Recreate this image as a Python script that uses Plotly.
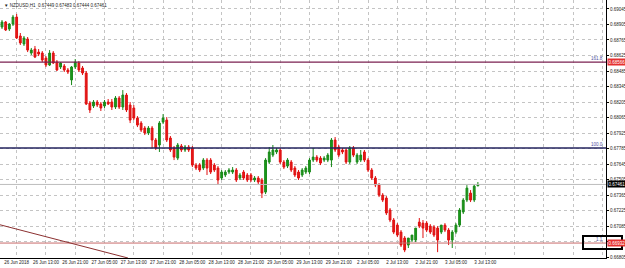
import plotly.graph_objects as go

# H1 NZDUSD candles (bar index 0 = 26 Jun 01:00)
opens = [0.68882,0.68927,0.68864,0.68909,0.68972,0.68801,0.68729,0.68774,0.68647,0.68683,
         0.68656,0.68647,0.68602,0.68539,0.68647,0.68566,0.68521,0.68530,0.68494,0.68404,
         0.68521,0.68557,0.68512,0.68467,0.68196,0.68169,0.68205,0.68187,0.68169,0.68205,
         0.68205,0.68160,0.68241,0.68160,0.68268,0.68178,0.68151,0.68060,0.68015,0.67970,
         0.67925,0.67970,0.67862,0.67817,0.68024,0.68042,0.67880,0.67790,0.67699,0.67808,
         0.67772,0.67799,0.67790,0.67636,0.67636,0.67609,0.67681,0.67681,0.67636,0.67609,
         0.67519,0.67546,0.67573,0.67573,0.67591,0.67519,0.67573,0.67546,0.67546,0.67501,
         0.67519,0.67501,0.67392,0.67663,0.67726,0.67754,0.67772,0.67663,0.67627,0.67663,
         0.67609,0.67573,0.67546,0.67573,0.67573,0.67681,0.67708,0.67699,0.67681,0.67681,
         0.67681,0.67862,0.67799,0.67772,0.67772,0.67663,0.67790,0.67663,0.67681,0.67754,
         0.67681,0.67591,0.67519,0.67456,0.67365,0.67338,0.67230,0.67140,0.67094,0.67031,
         0.66977,0.66914,0.66959,0.66959,0.67121,0.67112,0.67112,0.67085,0.67076,0.67067,
         0.67031,0.67094,0.67049,0.66959,0.67031,0.67094,0.67212,0.67320,0.67383,0.67320,
         0.67449]
highs = [0.68945,0.68936,0.68918,0.68991,0.69000,0.68828,0.68801,0.68792,0.68693,0.68711,
         0.68683,0.68665,0.68620,0.68674,0.68665,0.68584,0.68566,0.68548,0.68512,0.68530,
         0.68593,0.68575,0.68530,0.68485,0.68214,0.68223,0.68223,0.68205,0.68223,0.68232,
         0.68232,0.68259,0.68259,0.68313,0.68286,0.68205,0.68178,0.68078,0.68033,0.67988,
         0.67988,0.67988,0.67880,0.68033,0.68096,0.68069,0.67898,0.67808,0.67835,0.67826,
         0.67817,0.67817,0.67808,0.67654,0.67654,0.67699,0.67699,0.67699,0.67654,0.67627,
         0.67591,0.67591,0.67609,0.67618,0.67609,0.67564,0.67591,0.67564,0.67564,0.67537,
         0.67537,0.67519,0.67699,0.67799,0.67817,0.67790,0.67790,0.67681,0.67699,0.67681,
         0.67627,0.67591,0.67609,0.67627,0.67699,0.67790,0.67726,0.67717,0.67717,0.67744,
         0.67880,0.67889,0.67817,0.67790,0.67790,0.67808,0.67808,0.67744,0.67772,0.67772,
         0.67699,0.67609,0.67537,0.67474,0.67383,0.67356,0.67248,0.67158,0.67112,0.67049,
         0.66995,0.66977,0.67004,0.67067,0.67158,0.67140,0.67130,0.67103,0.67094,0.67085,
         0.67094,0.67112,0.67067,0.67049,0.67112,0.67248,0.67338,0.67455,0.67410,0.67464,
         0.67483]
lows = [0.68864,0.68846,0.68846,0.68891,0.68774,0.68720,0.68711,0.68656,0.68629,0.68602,
        0.68620,0.68566,0.68521,0.68530,0.68548,0.68485,0.68503,0.68476,0.68458,0.68358,
        0.68503,0.68476,0.68449,0.68178,0.68106,0.68151,0.68160,0.68124,0.68151,0.68178,
        0.68133,0.68142,0.68142,0.68133,0.68115,0.68015,0.68042,0.67979,0.67934,0.67907,
        0.67907,0.67790,0.67772,0.67754,0.68006,0.67844,0.67754,0.67681,0.67681,0.67754,
        0.67754,0.67754,0.67618,0.67591,0.67573,0.67591,0.67546,0.67555,0.67573,0.67456,
        0.67501,0.67528,0.67555,0.67555,0.67483,0.67501,0.67501,0.67483,0.67483,0.67483,
        0.67464,0.67338,0.67374,0.67645,0.67708,0.67735,0.67645,0.67600,0.67609,0.67573,
        0.67528,0.67501,0.67528,0.67555,0.67555,0.67663,0.67663,0.67636,0.67663,0.67663,
        0.67618,0.67754,0.67708,0.67735,0.67645,0.67645,0.67708,0.67645,0.67663,0.67663,
        0.67573,0.67501,0.67437,0.67347,0.67302,0.67185,0.67121,0.67013,0.66986,0.66896,
        0.66850,0.66887,0.66941,0.66941,0.67067,0.66977,0.67031,0.67013,0.66986,0.66850,
        0.67013,0.67031,0.66914,0.66887,0.67013,0.67076,0.67194,0.67302,0.67302,0.67302,
        0.67444]
closes = [0.68927,0.68855,0.68909,0.68972,0.68783,0.68738,0.68783,0.68674,0.68674,0.68611,
          0.68638,0.68584,0.68539,0.68647,0.68557,0.68494,0.68557,0.68494,0.68476,0.68521,
          0.68566,0.68494,0.68467,0.68187,0.68133,0.68205,0.68178,0.68151,0.68205,0.68187,
          0.68160,0.68241,0.68160,0.68268,0.68133,0.68042,0.68060,0.67997,0.67952,0.67925,
          0.67970,0.67862,0.67790,0.68015,0.68060,0.67862,0.67772,0.67708,0.67817,0.67772,
          0.67799,0.67772,0.67636,0.67609,0.67591,0.67681,0.67609,0.67573,0.67591,0.67501,
          0.67573,0.67573,0.67591,0.67591,0.67501,0.67546,0.67519,0.67501,0.67501,0.67519,
          0.67483,0.67383,0.67681,0.67754,0.67772,0.67772,0.67663,0.67618,0.67681,0.67591,
          0.67546,0.67519,0.67591,0.67609,0.67681,0.67708,0.67681,0.67654,0.67699,0.67726,
          0.67862,0.67772,0.67726,0.67754,0.67663,0.67790,0.67726,0.67726,0.67726,0.67681,
          0.67591,0.67519,0.67456,0.67365,0.67320,0.67203,0.67140,0.67031,0.67004,0.66914,
          0.66869,0.66977,0.67004,0.67067,0.67085,0.67067,0.67049,0.67031,0.67004,0.66959,
          0.67094,0.67049,0.66959,0.67031,0.67094,0.67230,0.67320,0.67428,0.67320,0.67446,
          0.67461]

# time axis labels every 8 bars, starting at bar 4
time_labels = ["26 Jun 2018", "26 Jun 13:00", "26 Jun 21:00", "27 Jun 05:00", "27 Jun 13:00",
               "27 Jun 21:00", "28 Jun 05:00", "28 Jun 13:00", "28 Jun 21:00", "29 Jun 05:00",
               "29 Jun 13:00", "29 Jun 21:00", "2 Jul 05:00", "2 Jul 13:00", "2 Jul 21:00",
               "3 Jul 05:00", "3 Jul 13:00", "", "", "", ""]
first_label_bar = 4
bars_per_label = 8

price_ticks = [0.69045, 0.68905, 0.68765, 0.68625, 0.68485, 0.68345, 0.68205, 0.68065,
               0.67925, 0.67785, 0.67645, 0.67505, 0.67365, 0.67225, 0.67085, 0.66945, 0.66805]
# the 0.66945 label sits under the red price box in the original
price_tick_text = ["0.69045", "0.68905", "0.68765", "0.68625", "0.68485", "0.68345", "0.68205",
                   "0.68065", "0.67925", "0.67785", "0.67645", "0.67505", "0.67365", "0.67225",
                   "0.67085", "", "0.66805"]

fib_1618 = 0.68566
fib_1000 = 0.67790
low_level = 0.66932
bid_price = 0.67461
trend_start = (-0.55, 0.67097)
trend_end = (34.4, 0.66797)

x_range = [-0.55, 165.0]
y_range = [0.66797, 0.69126]

FONT = "Liberation Sans, Arial, sans-serif"

xs = list(range(len(opens)))
tickvals = [first_label_bar + bars_per_label * k for k in range(len(time_labels))]

fig = go.Figure()
fig.add_trace(go.Candlestick(
    x=xs, open=opens, high=highs, low=lows, close=closes,
    increasing=dict(line=dict(color="#1a8a1a", width=1), fillcolor="#1a9a1a"),
    decreasing=dict(line=dict(color="#e01010", width=1), fillcolor="#e41a1a"),
    whiskerwidth=0, showlegend=False, hoverinfo="skip"))

def hline(y, color, width):
    fig.add_shape(type="line", xref="paper", x0=0, x1=1, yref="y", y0=y, y1=y,
                  line=dict(color=color, width=width), layer="above")

hline(bid_price, "#bdbdbd", 1)
hline(low_level, "#c86a6a", 1)
hline(fib_1000, "#23235e", 1.3)
hline(fib_1618, "#7a2150", 1.3)
fig.add_shape(type="line", xref="x", yref="y", x0=trend_start[0], y0=trend_start[1],
              x1=trend_end[0], y1=trend_end[1], line=dict(color="#8b3030", width=1))

# black annotation rectangle
fig.add_shape(type="rect", xref="paper", yref="paper", x0=583/606, x1=622/606,
              y0=(258-249)/258, y1=(258-236)/258, line=dict(color="black", width=2))

def price_box(y, text, bg):
    fig.add_annotation(x=1, xref="paper", y=y, yref="y", text=text, showarrow=False,
                       xanchor="left", xshift=1, bgcolor=bg, borderpad=0.5,
                       font=dict(color="white", size=4.5, family=FONT))

price_box(fib_1618, "0.68566", "#e53030")
price_box(bid_price, "0.67461", "#000000")
price_box(low_level, "0.66932", "#e53030")

def fib_label(y, text):
    fig.add_annotation(x=1, xref="paper", y=y, yref="y", text=text, showarrow=False,
                       xanchor="right", yanchor="bottom", xshift=-1, yshift=-1,
                       font=dict(color="#5050a0", size=4.5, family=FONT))

fib_label(fib_1618, "161.8")
fib_label(fib_1000, "100.0")
fib_label(low_level, "1.1")

fig.add_annotation(x=0, xref="paper", y=1, yref="paper", xanchor="left", yanchor="top",
                   xshift=2, yshift=-1, showarrow=False,
                   text="\u25BC NZDUSD,H1  0.67449 0.67483 0.67444 0.67461",
                   font=dict(color="#222222", size=4.5, family=FONT))

fig.update_layout(
    width=625, height=268, margin=dict(l=0, r=19, t=0, b=10),
    paper_bgcolor="white", plot_bgcolor="white",
    xaxis=dict(range=x_range, tickvals=tickvals, ticktext=time_labels,
               showgrid=True, gridcolor="#c4c4c4", griddash="dot", gridwidth=1,
               rangeslider=dict(visible=False), zeroline=False, ticks="",
               tickangle=0, automargin=False, ticklabelstandoff=0,
               tickfont=dict(size=4.5, color="#222222", family=FONT),
               showline=True, linecolor="black", linewidth=1, mirror=False,
               fixedrange=True),
    yaxis=dict(range=y_range, side="right", tickvals=price_ticks,
               ticktext=price_tick_text, automargin=False,
               showgrid=True, gridcolor="#c4c4c4", griddash="dot", gridwidth=1,
               zeroline=False, ticks="outside", ticklen=2, tickcolor="black",
               ticklabelstandoff=0,
               tickfont=dict(size=4.5, color="#222222", family=FONT),
               showline=True, linecolor="black", linewidth=1, fixedrange=True),
)

fig.write_html("out.html")
